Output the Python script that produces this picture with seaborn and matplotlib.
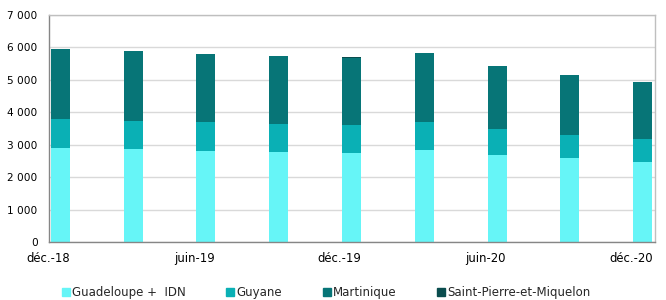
import numpy as np
import pandas as pd
import matplotlib
matplotlib.use("Agg")
import matplotlib.pyplot as plt
import seaborn as sns
from matplotlib.lines import Line2D

periods = ["déc.-18", "mars-19", "juin-19", "sept.-19", "déc.-19",
           "mars-20", "juin-20", "sept.-20", "déc.-20"]
tick_labels = ["déc.-18", "juin-19", "déc.-19", "juin-20", "déc.-20"]
guadeloupe = [2913, 2883, 2812, 2771, 2750, 2843, 2689, 2596, 2483]
guyane = [883, 862, 883, 863, 853, 852, 791, 719, 689]
martinique = [2160, 2152, 2110, 2108, 2088, 2128, 1945, 1832, 1752]
spm = [6, 6, 6, 6, 6, 6, 6, 6, 6]
series_names = ["Guadeloupe +  IDN", "Guyane", "Martinique", "Saint-Pierre-et-Miquelon"]
colors = ["#66F5F7", "#0AB0B5", "#077577", "#0A4D4E"]

sns.set_theme(style="white")
plt.rcParams["font.family"] = ["DejaVu Sans"]

pos = np.arange(len(periods)) + 0.16
df = pd.DataFrame({"pos": pos, "g": guadeloupe, "gy": guyane, "m": martinique, "s": spm})
df["c1"] = df["g"]
df["c2"] = df["c1"] + df["gy"]
df["c3"] = df["c2"] + df["m"]
df["c4"] = df["c3"] + df["s"]

fig = plt.figure(figsize=(6.66, 3.0), dpi=100)
ax = fig.add_axes([0.073, 0.1923, 0.9835 - 0.073, 0.95 - 0.1923])

for col, c in zip(["c4", "c3", "c2", "c1"], colors[::-1]):
    sns.barplot(data=df, x="pos", y=col, native_scale=True, width=0.26,
                color=c, saturation=1, ax=ax, linewidth=0, errorbar=None)

ax.set_xlim(0, 8.33)
ax.set_ylim(0, 7000)
yt = np.arange(0, 7001, 1000)
ax.set_yticks(yt)
ax.set_yticklabels([f"{v:,}".replace(",", " ") for v in yt], fontsize=7.6)
ax.set_xticks([0, 2, 4, 6, 8])
ax.set_xticklabels(tick_labels, fontsize=8.4)
ax.set_xlabel("")
ax.set_ylabel("")
ax.yaxis.grid(True, color="#D9D9D9", linewidth=1)
ax.set_axisbelow(True)
ax.tick_params(axis="both", which="major", length=3, width=1, color="#868686",
               direction="out", labelcolor="#000000")
ax.tick_params(axis="y", pad=5)
ax.tick_params(axis="x", length=4, pad=3)
for s in ["left", "bottom"]:
    ax.spines[s].set_color("#868686")
    ax.spines[s].set_linewidth(1)
for s in ["top", "right"]:
    ax.spines[s].set_color("#BFBFBF")
    ax.spines[s].set_linewidth(1)

handles = [Line2D([0], [0], marker="s", linestyle="none", markersize=6,
                  markerfacecolor=c, markeredgecolor=c) for c in colors]
fig.legend(handles, series_names, loc="center", bbox_to_anchor=(0.489, 0.025),
           ncol=4, frameon=False, fontsize=8.5, handletextpad=0.1,
           columnspacing=3.4, handlelength=0.8)

fig.savefig("out.png", dpi=100)
